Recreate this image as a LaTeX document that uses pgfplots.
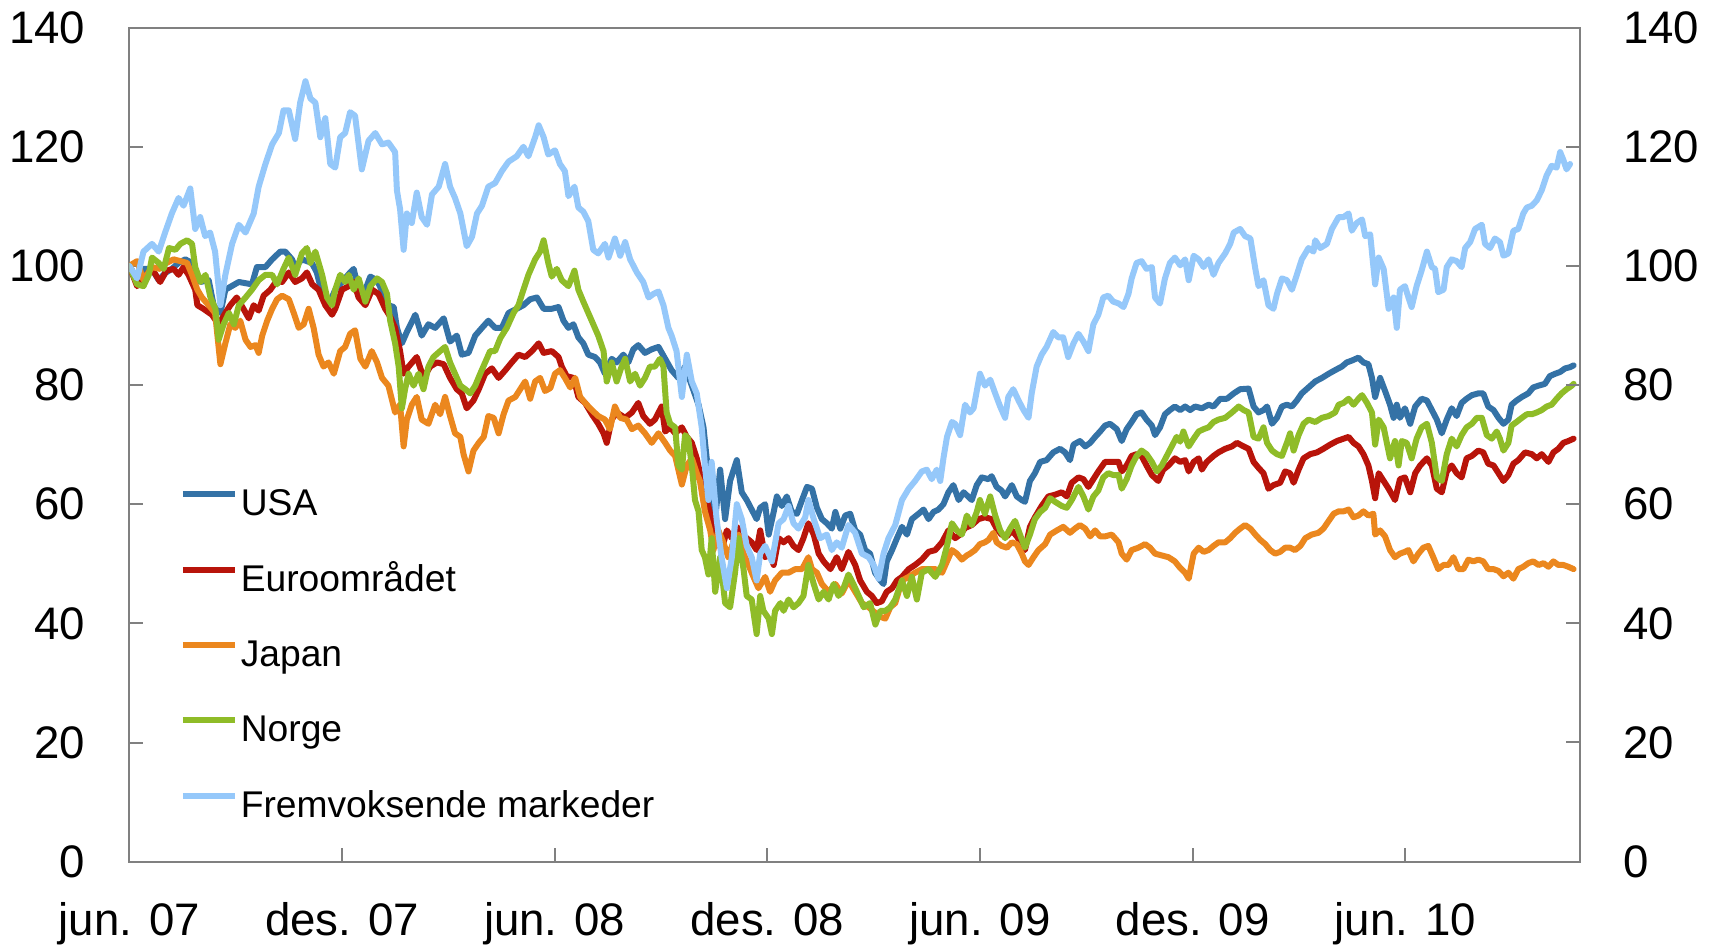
\documentclass[border=0pt]{standalone}
\usepackage{pgfplots}
\pgfplotsset{compat=1.18}
\usepackage{fontspec}
\setmainfont{Liberation Sans}
\definecolor{cUSA}{RGB}{52,114,166}
\definecolor{cEUR}{RGB}{184,20,10}
\definecolor{cJPN}{RGB}{235,135,30}
\definecolor{cNOR}{RGB}{143,188,40}
\definecolor{cEM}{RGB}{149,200,250}
\begin{document}
\begin{tikzpicture}
\path[use as bounding box] (-64.65bp,-42.15bp) rectangle (794.8bp,430.8bp);
\pgfplotsset{
  mystyle/.style={scale only axis, width=725.3bp, height=417bp,
    xmin=0, xmax=40.93, ymin=0, ymax=140,
    tick align=inside, major tick length=7bp,
    every tick/.style={gray, line width=1bp},
    ytick={0,20,...,140},
    tick label style={font=\fontsize{22.8bp}{27bp}\selectfont, inner sep=0pt},
    /pgf/number format/assume math mode=true,
    axis line style={gray, line width=1bp}},
  ser/.style={line width=3bp, line join=round, line cap=round}
}
\begin{axis}[mystyle, at={(0,0)}, anchor=south west,
  xtick={0,6,12,18,24,30,36},
  xticklabels={jun. 07,des. 07,jun. 08,des. 08,jun. 09,des. 09,jun. 10},
  xtick pos=bottom, ytick pos=left,
  xticklabel style={anchor=base, yshift=-36.7bp},
  yticklabel style={anchor=east, xshift=-21.9bp},
  legend style={draw=none, fill=none, inner sep=0pt, outer sep=0pt,
    at={(0.0349,0.4482)}, anchor=north west,
    row sep=19.69bp, column sep=1.45bp,
    font=\fontsize{18.6bp}{22bp}\selectfont,
    nodes={inner sep=0pt, text height=14bp, text depth=4bp}},
  legend cell align=left,
  legend image code/.code={\path (0bp,0bp); \draw[#1, line width=3bp, line cap=butt] (0bp,5.8bp) -- (26bp,5.8bp);}
]
% USA
\addplot[ser, cUSA] coordinates {
(0,100)(0.22,97.9)(0.40,99.5)(0.64,99.5)(0.83,97.6)(1.01,98.8)(1.20,99.5)(1.39,100.5)(1.58,101.1)(1.77,100.5)(1.86,98.5)(2.00,97.3)(2.24,97.6)(2.38,93.4)(2.57,92.1)(2.71,96.0)(3.09,97.3)(3.46,96.9)(3.60,99.8)(3.84,99.8)(4.03,101.1)(4.26,102.4)(4.40,102.4)(4.59,101.1)(4.68,99.8)(4.87,101.1)(5.15,100.5)(5.29,98.9)(5.44,95.3)(5.62,93.4)(5.81,96.0)(6.00,97.3)(6.23,98.9)(6.33,99.5)(6.47,96.0)(6.66,96.0)(6.80,98.2)(6.99,97.6)(7.17,95.3)(7.31,93.4)(7.46,93.1)(7.55,89.6)(7.69,87.0)(7.83,88.9)(8.07,91.8)(8.25,88.3)(8.44,90.2)(8.63,89.6)(8.87,91.2)(9.05,87.3)(9.24,88.3)(9.38,85.1)(9.57,85.4)(9.76,88.3)(9.95,89.6)(10.13,90.8)(10.32,89.6)(10.51,89.6)(10.70,92.1)(10.93,92.8)(11.12,93.4)(11.31,94.4)(11.50,94.7)(11.69,92.8)(11.92,92.8)(12.11,93.1)(12.25,90.8)(12.39,89.6)(12.53,90.2)(12.67,88.0)(12.81,87.0)(12.95,85.1)(13.14,84.7)(13.28,83.8)(13.42,81.9)(13.61,84.4)(13.75,83.8)(13.94,85.1)(14.08,83.8)(14.22,86.0)(14.36,86.7)(14.55,85.4)(14.74,86.0)(14.93,86.4)(15.12,84.4)(15.30,82.5)(15.49,81.2)(15.68,83.1)(15.87,79.9)(16.06,76.7)(16.20,72.9)(16.29,67.7)(16.43,62.6)(16.53,57.5)(16.67,65.8)(16.81,57.5)(16.95,63.9)(17.14,67.4)(17.28,62.0)(17.42,60.7)(17.56,59.1)(17.70,57.5)(17.80,59.4)(17.94,60.0)(18.04,54.9)(18.18,58.7)(18.27,61.3)(18.41,59.7)(18.55,61.3)(18.69,58.7)(18.84,58.4)(18.98,60.7)(19.12,62.9)(19.26,62.6)(19.40,59.4)(19.54,57.5)(19.68,56.8)(19.82,55.9)(19.92,58.7)(20.06,55.9)(20.20,58.1)(20.34,58.4)(20.48,55.6)(20.62,54.9)(20.76,52.3)(20.90,51.7)(21.04,48.5)(21.19,47.2)(21.28,46.6)(21.37,50.4)(21.52,52.3)(21.66,54.3)(21.80,56.2)(21.94,54.9)(22.08,57.5)(22.27,58.4)(22.41,59.1)(22.55,57.5)(22.69,58.7)(22.83,59.1)(22.97,60.0)(23.11,62.0)(23.25,63.2)(23.40,60.7)(23.54,62.0)(23.77,60.7)(23.91,63.2)(24.05,64.5)(24.24,64.2)(24.33,64.7)(24.47,62.9)(24.61,62.3)(24.71,61.3)(24.90,63.2)(25.04,61.3)(25.18,60.7)(25.27,60.4)(25.41,63.9)(25.55,65.2)(25.70,67.1)(25.88,67.4)(26.07,68.7)(26.26,69.3)(26.40,68.7)(26.54,67.4)(26.64,70.0)(26.82,70.6)(26.97,69.7)(27.11,70.3)(27.25,71.3)(27.39,72.2)(27.53,73.2)(27.67,73.5)(27.86,72.6)(28.00,70.6)(28.14,72.6)(28.28,73.8)(28.42,75.1)(28.56,75.4)(28.70,74.2)(28.85,73.2)(28.94,71.6)(29.08,72.9)(29.22,75.1)(29.36,75.8)(29.50,76.4)(29.65,75.8)(29.79,76.4)(29.93,75.8)(30.07,76.4)(30.26,76.1)(30.45,76.7)(30.59,76.4)(30.78,77.7)(30.97,77.7)(31.16,78.6)(31.34,79.3)(31.58,79.4)(31.72,76.4)(31.86,75.4)(32.00,75.8)(32.10,76.4)(32.24,73.5)(32.38,74.5)(32.52,76.4)(32.66,76.7)(32.80,76.4)(32.94,77.4)(33.08,78.6)(33.27,79.6)(33.46,80.6)(33.65,81.2)(33.84,81.9)(34.02,82.5)(34.21,83.1)(34.35,83.8)(34.49,84.1)(34.68,84.6)(34.82,83.8)(34.96,83.5)(35.06,81.2)(35.15,78.0)(35.29,81.2)(35.43,79.0)(35.57,76.7)(35.67,74.5)(35.76,76.7)(35.85,74.5)(35.99,76.1)(36.14,73.5)(36.28,76.4)(36.46,77.7)(36.61,77.4)(36.75,75.8)(36.89,74.2)(37.03,71.9)(37.17,74.2)(37.31,76.1)(37.45,74.8)(37.59,77.0)(37.73,77.7)(37.88,78.3)(38.06,78.6)(38.20,78.6)(38.34,76.4)(38.49,75.8)(38.63,74.5)(38.77,73.5)(38.91,74.2)(39.00,76.7)(39.14,77.4)(39.29,78.0)(39.47,78.6)(39.61,79.6)(39.76,79.9)(39.94,80.2)(40.08,81.5)(40.23,81.9)(40.37,82.2)(40.51,82.8)(40.65,83.0)(40.75,83.3)
};
\addlegendentry{USA}
% Euro
\addplot[ser, cEUR] coordinates {
(0,100)(0.22,96.6)(0.40,97.9)(0.64,99.5)(0.87,97.3)(1.05,99.2)(1.25,99.5)(1.39,98.5)(1.53,99.8)(1.67,98.5)(1.86,96.0)(1.92,93.4)(2.09,92.8)(2.33,91.8)(2.52,90.2)(2.71,92.1)(2.85,93.4)(3.03,94.7)(3.22,92.8)(3.37,91.2)(3.51,93.4)(3.65,92.5)(3.79,95.0)(3.98,96.0)(4.17,97.6)(4.31,97.3)(4.50,98.9)(4.68,97.3)(4.87,97.9)(5.01,98.9)(5.16,96.9)(5.34,96.0)(5.53,93.4)(5.72,91.8)(5.81,92.8)(6.00,96.0)(6.19,96.6)(6.33,97.3)(6.47,94.7)(6.66,93.4)(6.85,96.0)(7.03,95.3)(7.22,92.8)(7.36,91.5)(7.50,89.6)(7.64,85.7)(7.74,81.9)(7.88,83.1)(8.11,84.7)(8.30,81.2)(8.49,83.1)(8.68,83.8)(8.87,83.5)(9.05,81.2)(9.24,79.3)(9.38,78.6)(9.52,76.1)(9.71,77.4)(9.86,79.3)(10.04,81.9)(10.23,82.8)(10.42,81.2)(10.61,82.5)(10.79,83.8)(10.98,85.1)(11.17,84.7)(11.36,85.7)(11.55,87.0)(11.69,85.4)(11.92,85.7)(12.11,84.7)(12.20,83.1)(12.34,81.5)(12.53,81.2)(12.67,78.0)(12.86,77.0)(13.05,75.1)(13.23,73.5)(13.38,71.9)(13.47,70.3)(13.61,74.2)(13.75,75.4)(13.99,74.5)(14.18,75.4)(14.36,77.0)(14.50,74.8)(14.69,73.5)(14.83,74.2)(15.02,76.4)(15.12,72.2)(15.26,72.9)(15.40,71.9)(15.59,72.9)(15.73,71.3)(15.87,70.3)(16.01,67.7)(16.15,63.9)(16.29,60.7)(16.43,57.5)(16.57,54.3)(16.71,52.3)(16.86,55.6)(17.00,54.3)(17.14,56.2)(17.28,54.9)(17.42,54.3)(17.56,53.6)(17.70,52.3)(17.80,55.6)(17.94,51.1)(18.08,51.7)(18.18,49.8)(18.32,54.3)(18.46,53.6)(18.60,54.3)(18.74,53.0)(18.88,52.3)(19.02,54.3)(19.16,56.8)(19.31,54.9)(19.45,51.7)(19.59,50.4)(19.78,49.1)(19.96,51.1)(20.10,49.1)(20.29,52.0)(20.48,49.8)(20.62,47.2)(20.81,45.3)(20.95,44.6)(21.09,43.4)(21.23,43.7)(21.37,45.3)(21.52,45.9)(21.66,47.2)(21.80,47.8)(21.99,49.1)(22.17,49.8)(22.36,50.7)(22.55,52.0)(22.74,52.3)(22.93,53.6)(23.11,55.6)(23.30,54.3)(23.44,54.9)(23.58,56.0)(23.77,56.5)(23.96,57.5)(24.14,57.8)(24.33,57.5)(24.47,55.9)(24.61,54.9)(24.76,54.6)(24.90,55.6)(25.04,54.6)(25.18,53.3)(25.27,52.3)(25.41,56.2)(25.55,57.8)(25.74,59.7)(25.93,61.3)(26.12,61.6)(26.31,62.0)(26.45,61.3)(26.59,63.6)(26.78,64.5)(26.92,64.2)(27.06,62.9)(27.20,64.2)(27.34,65.5)(27.53,67.1)(27.72,67.1)(27.91,67.1)(28.00,65.5)(28.14,66.5)(28.28,68.1)(28.42,68.4)(28.56,68.1)(28.70,66.5)(28.85,64.9)(29.03,63.9)(29.17,65.8)(29.32,66.5)(29.50,67.7)(29.65,67.1)(29.79,67.4)(29.89,65.5)(30.03,67.1)(30.17,67.7)(30.26,65.8)(30.40,67.1)(30.59,68.1)(30.73,68.7)(30.92,69.3)(31.11,69.7)(31.25,70.3)(31.44,69.7)(31.58,69.3)(31.72,67.1)(31.86,66.1)(32.00,65.2)(32.14,62.6)(32.28,63.2)(32.47,63.6)(32.61,65.5)(32.75,65.2)(32.85,63.6)(32.99,65.8)(33.13,67.7)(33.32,68.4)(33.51,68.7)(33.69,69.3)(33.88,70.0)(34.07,70.6)(34.26,71.0)(34.40,71.3)(34.54,70.3)(34.68,69.7)(34.82,68.4)(34.96,66.5)(35.06,63.9)(35.15,61.0)(35.25,65.2)(35.39,63.9)(35.53,62.6)(35.71,60.7)(35.85,64.2)(35.99,64.5)(36.14,62.0)(36.28,65.2)(36.42,66.5)(36.61,67.7)(36.75,66.5)(36.89,62.6)(37.03,62.0)(37.17,65.5)(37.31,66.5)(37.45,65.2)(37.59,64.5)(37.73,67.7)(37.88,68.1)(38.06,69.0)(38.20,68.7)(38.34,66.8)(38.49,66.5)(38.63,65.2)(38.77,63.9)(38.91,64.9)(39.05,66.8)(39.19,67.4)(39.38,68.7)(39.57,68.4)(39.71,67.7)(39.85,68.4)(40.04,67.1)(40.18,68.7)(40.32,69.3)(40.46,70.3)(40.60,70.6)(40.75,71.0)
};
\addlegendentry{Euroområdet}
% Japan
\addplot[ser, cJPN] coordinates {
(0,100)(0.22,100.8)(0.40,97.6)(0.64,99.8)(0.87,99.5)(1.05,100.5)(1.25,101.1)(1.44,100.8)(1.63,100.5)(1.77,98.5)(1.92,96.0)(2.05,94.7)(2.24,93.4)(2.42,92.1)(2.57,83.5)(2.71,87.0)(2.85,90.2)(2.99,89.6)(3.13,90.8)(3.28,87.6)(3.42,86.4)(3.56,86.7)(3.65,85.4)(3.75,88.3)(3.89,90.8)(4.03,92.8)(4.17,94.4)(4.31,95.0)(4.50,94.4)(4.64,92.1)(4.78,89.6)(4.92,90.2)(5.06,92.8)(5.20,89.6)(5.34,85.1)(5.48,83.1)(5.62,83.8)(5.77,81.9)(5.95,85.7)(6.09,86.4)(6.23,88.6)(6.37,89.2)(6.52,84.4)(6.66,83.1)(6.84,85.7)(6.99,83.8)(7.13,81.2)(7.31,79.9)(7.50,75.4)(7.64,76.7)(7.74,69.7)(7.83,74.2)(7.97,76.7)(8.11,78.0)(8.25,74.2)(8.44,73.5)(8.63,76.7)(8.77,75.1)(8.91,78.0)(9.05,74.8)(9.19,71.9)(9.34,71.3)(9.43,68.4)(9.57,65.5)(9.71,69.0)(9.86,70.3)(10.00,71.3)(10.13,74.8)(10.28,74.5)(10.42,71.9)(10.56,75.1)(10.70,77.4)(10.89,78.0)(11.03,79.3)(11.17,80.6)(11.31,77.7)(11.45,80.6)(11.59,81.2)(11.73,79.0)(11.88,79.5)(12.01,81.9)(12.15,82.5)(12.29,81.2)(12.44,79.6)(12.58,81.2)(12.72,78.0)(12.86,77.0)(13.05,75.8)(13.23,74.8)(13.42,74.2)(13.56,72.6)(13.70,76.4)(13.85,74.5)(14.03,74.2)(14.18,72.6)(14.36,73.2)(14.55,71.9)(14.74,70.3)(14.93,71.9)(15.12,70.3)(15.26,69.0)(15.40,68.1)(15.59,63.3)(15.73,66.5)(15.87,67.7)(16.01,65.2)(16.10,63.9)(16.24,58.8)(16.39,55.6)(16.48,52.3)(16.62,55.6)(16.76,53.6)(16.90,51.1)(17.04,53.6)(17.19,54.9)(17.33,51.7)(17.47,49.8)(17.61,47.8)(17.75,45.9)(17.94,47.8)(18.08,45.3)(18.22,47.2)(18.41,48.5)(18.60,48.5)(18.79,49.1)(18.98,49.1)(19.16,51.1)(19.26,49.1)(19.40,48.5)(19.54,46.6)(19.73,45.3)(19.92,46.6)(20.10,45.0)(20.29,47.2)(20.48,45.3)(20.67,43.4)(20.86,42.7)(21.04,41.8)(21.19,41.1)(21.33,40.8)(21.47,42.7)(21.61,43.4)(21.80,47.2)(21.99,47.8)(22.17,48.5)(22.36,49.1)(22.55,49.1)(22.74,49.1)(22.93,48.5)(23.07,50.4)(23.21,52.3)(23.35,51.7)(23.49,50.7)(23.63,51.4)(23.72,51.7)(23.86,52.3)(24.00,53.3)(24.14,53.6)(24.24,54.0)(24.38,55.2)(24.47,53.6)(24.61,53.0)(24.76,52.7)(24.90,53.6)(25.04,53.3)(25.18,51.7)(25.27,50.4)(25.37,49.8)(25.51,51.1)(25.65,52.3)(25.84,53.3)(25.98,54.9)(26.17,55.6)(26.35,56.2)(26.54,55.2)(26.68,55.9)(26.82,56.5)(26.97,55.9)(27.11,54.6)(27.25,55.6)(27.39,54.6)(27.53,54.6)(27.72,54.9)(27.91,53.6)(28.00,51.7)(28.14,50.7)(28.28,52.3)(28.47,52.7)(28.66,53.3)(28.80,52.7)(28.94,51.7)(29.13,51.4)(29.32,51.1)(29.50,50.4)(29.65,49.3)(29.79,48.5)(29.89,47.5)(30.03,51.7)(30.17,52.7)(30.31,52.0)(30.45,52.3)(30.59,53.0)(30.73,53.6)(30.92,53.6)(31.06,54.3)(31.20,55.2)(31.34,55.9)(31.48,56.5)(31.63,55.9)(31.77,54.9)(31.91,54.0)(32.05,53.3)(32.19,52.3)(32.33,51.7)(32.47,52.0)(32.61,52.7)(32.75,52.7)(32.89,52.3)(33.04,53.0)(33.18,54.3)(33.36,54.9)(33.55,55.2)(33.69,55.9)(33.84,57.2)(33.98,58.4)(34.12,58.8)(34.26,58.8)(34.40,59.1)(34.54,57.8)(34.68,58.1)(34.82,58.8)(34.96,58.1)(35.10,58.4)(35.15,54.9)(35.29,55.6)(35.43,54.6)(35.57,52.3)(35.71,51.1)(35.85,51.7)(35.99,52.0)(36.09,52.3)(36.23,50.4)(36.37,51.7)(36.51,52.7)(36.65,53.0)(36.79,51.1)(36.93,49.1)(37.08,49.8)(37.22,49.8)(37.36,51.1)(37.50,49.1)(37.64,49.1)(37.78,50.7)(37.92,50.4)(38.06,50.7)(38.20,50.4)(38.34,49.1)(38.49,49.1)(38.63,48.8)(38.77,47.9)(38.91,48.5)(39.05,47.5)(39.19,49.1)(39.33,49.5)(39.47,50.1)(39.61,50.4)(39.76,49.8)(39.90,50.1)(40.04,49.5)(40.18,50.4)(40.32,49.8)(40.46,49.8)(40.60,49.5)(40.75,49.1)
};
\addlegendentry{Japan}
% Norge
\addplot[ser, cNOR] coordinates {
(0,100)(0.22,96.9)(0.40,96.6)(0.55,98.5)(0.64,101.4)(0.83,100.5)(0.97,99.5)(1.12,103.0)(1.30,102.7)(1.44,103.7)(1.63,104.3)(1.77,103.7)(1.86,99.8)(2.01,97.3)(2.15,98.5)(2.29,94.7)(2.43,92.8)(2.52,87.6)(2.66,90.2)(2.81,92.1)(2.95,90.2)(3.09,93.4)(3.28,94.7)(3.46,96.0)(3.65,97.6)(3.84,98.5)(4.03,98.5)(4.17,96.9)(4.35,99.5)(4.50,101.4)(4.68,98.5)(4.87,102.1)(5.01,103.0)(5.11,100.5)(5.25,102.4)(5.44,98.5)(5.58,94.7)(5.72,93.4)(5.81,96.0)(5.95,98.5)(6.09,97.3)(6.19,98.5)(6.33,96.0)(6.47,97.9)(6.66,94.0)(6.80,96.6)(6.99,97.9)(7.13,97.3)(7.27,95.3)(7.36,90.8)(7.50,87.0)(7.60,83.1)(7.69,76.1)(7.78,79.3)(7.88,81.9)(8.02,79.9)(8.16,81.9)(8.30,79.3)(8.44,83.1)(8.58,84.7)(8.77,85.7)(8.91,86.4)(9.05,83.8)(9.19,81.9)(9.34,79.9)(9.48,79.3)(9.62,78.6)(9.76,79.9)(9.90,81.9)(10.04,83.8)(10.18,85.7)(10.32,85.7)(10.47,87.9)(10.65,89.6)(10.84,92.1)(10.98,93.4)(11.12,96.0)(11.26,98.5)(11.45,101.1)(11.59,102.4)(11.69,104.3)(11.82,100.5)(11.92,98.2)(12.06,99.5)(12.20,97.6)(12.39,96.6)(12.56,99.2)(12.67,96.0)(12.81,94.0)(12.95,92.1)(13.09,90.2)(13.23,88.3)(13.38,85.7)(13.47,80.6)(13.61,83.8)(13.75,80.6)(13.89,83.1)(13.99,84.4)(14.13,80.6)(14.27,81.9)(14.41,79.9)(14.55,81.2)(14.69,83.1)(14.83,83.1)(14.97,84.4)(15.07,83.1)(15.16,75.4)(15.26,73.5)(15.40,72.9)(15.49,66.5)(15.59,65.8)(15.68,71.6)(15.77,71.0)(15.87,66.5)(15.96,60.7)(16.06,58.8)(16.15,52.3)(16.24,51.1)(16.34,48.2)(16.43,54.3)(16.53,45.3)(16.67,51.1)(16.81,43.4)(16.95,42.7)(17.09,48.5)(17.19,54.3)(17.33,49.1)(17.42,44.6)(17.56,44.0)(17.70,38.2)(17.80,44.6)(17.89,42.1)(18.04,40.8)(18.13,38.2)(18.22,42.1)(18.37,43.4)(18.46,42.1)(18.60,44.0)(18.74,42.7)(18.88,43.4)(19.02,44.6)(19.16,49.8)(19.31,46.6)(19.45,44.0)(19.59,45.3)(19.73,44.0)(19.87,46.6)(20.01,44.6)(20.15,45.9)(20.29,48.2)(20.43,46.6)(20.58,44.6)(20.72,42.7)(20.90,43.4)(21.05,39.8)(21.19,42.1)(21.33,42.1)(21.47,42.7)(21.61,44.0)(21.80,47.2)(21.94,44.6)(22.08,47.8)(22.22,44.0)(22.36,48.5)(22.55,49.1)(22.74,47.8)(22.93,49.8)(23.07,53.0)(23.21,56.8)(23.35,55.6)(23.49,54.9)(23.63,58.1)(23.77,56.5)(23.91,58.7)(24.00,60.7)(24.14,58.4)(24.29,61.3)(24.43,58.1)(24.57,55.6)(24.71,54.3)(24.85,55.9)(24.99,57.2)(25.13,54.9)(25.27,52.7)(25.41,54.9)(25.55,57.5)(25.70,58.7)(25.84,59.4)(25.98,61.0)(26.12,60.4)(26.31,59.7)(26.45,59.4)(26.59,60.7)(26.78,62.9)(26.92,61.3)(27.06,59.1)(27.20,61.3)(27.34,62.3)(27.48,64.5)(27.62,65.2)(27.76,64.9)(27.91,64.9)(28.00,62.6)(28.14,64.2)(28.28,66.5)(28.42,68.1)(28.56,69.0)(28.70,68.4)(28.85,67.1)(28.99,65.5)(29.13,66.5)(29.27,68.1)(29.41,69.7)(29.55,71.3)(29.65,70.5)(29.74,72.2)(29.89,69.7)(30.03,71.0)(30.17,72.2)(30.31,72.6)(30.45,72.9)(30.59,73.8)(30.73,74.2)(30.92,74.5)(31.11,75.4)(31.30,76.4)(31.44,75.8)(31.58,75.4)(31.72,71.3)(31.86,71.0)(32.00,72.9)(32.10,70.3)(32.24,69.0)(32.38,68.4)(32.52,68.1)(32.66,70.3)(32.75,71.9)(32.85,69.0)(32.99,71.6)(33.13,73.5)(33.27,74.2)(33.46,73.8)(33.65,74.5)(33.84,74.8)(34.02,75.4)(34.12,76.7)(34.26,77.0)(34.40,77.7)(34.54,76.7)(34.68,77.7)(34.78,78.3)(34.92,77.0)(35.06,75.4)(35.15,70.0)(35.25,74.2)(35.39,72.9)(35.57,67.7)(35.71,70.6)(35.81,66.5)(35.90,70.6)(36.04,70.3)(36.18,67.7)(36.32,71.0)(36.46,72.9)(36.61,73.5)(36.75,70.3)(36.89,64.5)(37.03,63.9)(37.17,68.4)(37.31,71.0)(37.45,69.7)(37.59,71.6)(37.73,72.9)(37.88,73.5)(38.02,74.5)(38.16,74.5)(38.30,71.6)(38.44,71.0)(38.58,72.2)(38.67,71.0)(38.77,69.0)(38.91,70.3)(39.00,73.2)(39.14,73.8)(39.29,74.5)(39.43,75.1)(39.57,75.1)(39.71,75.4)(39.85,75.8)(39.99,76.4)(40.13,76.7)(40.27,77.7)(40.41,78.6)(40.55,79.3)(40.70,79.9)(40.75,80.2)
};
\addlegendentry{Norge}
% Fremvoksende markeder
\addplot[ser, cEM] coordinates {
(0,100)(0.22,97.9)(0.40,102.4)(0.64,103.7)(0.83,102.4)(1.01,105.6)(1.20,108.8)(1.39,111.4)(1.53,110.1)(1.72,113.0)(1.86,106.2)(2.00,108.2)(2.14,105.0)(2.28,105.6)(2.42,102.4)(2.57,93.4)(2.71,98.5)(2.90,103.7)(3.09,106.9)(3.28,105.6)(3.51,108.8)(3.65,113.3)(3.84,117.1)(4.03,120.4)(4.22,122.3)(4.35,126.1)(4.50,126.1)(4.68,121.3)(4.82,127.4)(4.97,131.0)(5.11,128.1)(5.25,127.4)(5.39,121.6)(5.53,124.8)(5.67,117.1)(5.81,116.5)(5.95,121.6)(6.09,122.3)(6.23,125.8)(6.37,125.2)(6.56,116.2)(6.75,121.0)(6.94,122.3)(7.13,120.4)(7.31,120.7)(7.50,119.1)(7.55,112.7)(7.64,109.5)(7.74,102.7)(7.83,108.8)(7.97,107.2)(8.11,112.3)(8.25,108.2)(8.40,106.9)(8.54,112.0)(8.73,113.3)(8.91,117.1)(9.05,113.3)(9.19,111.4)(9.34,108.8)(9.52,103.3)(9.67,104.9)(9.81,108.8)(9.95,110.1)(10.13,113.3)(10.32,113.9)(10.51,115.9)(10.70,117.5)(10.93,118.4)(11.12,120.0)(11.26,118.4)(11.45,121.6)(11.55,123.6)(11.69,121.6)(11.82,118.7)(12.01,119.4)(12.15,117.1)(12.29,115.9)(12.39,111.7)(12.56,113.3)(12.67,109.8)(12.81,109.1)(12.95,107.5)(13.09,102.7)(13.23,102.1)(13.42,103.7)(13.52,101.4)(13.70,104.6)(13.85,101.7)(13.99,104.0)(14.13,101.1)(14.32,98.9)(14.50,97.3)(14.65,94.7)(14.79,95.3)(14.93,95.7)(15.07,93.4)(15.21,89.6)(15.30,88.3)(15.44,85.7)(15.59,78.0)(15.73,85.1)(15.87,80.6)(16.01,78.6)(16.15,72.9)(16.24,66.5)(16.34,60.7)(16.43,67.1)(16.57,57.5)(16.71,51.1)(16.86,45.9)(17.00,51.1)(17.14,60.0)(17.28,57.5)(17.42,53.0)(17.56,51.1)(17.70,47.2)(17.80,51.7)(17.94,53.0)(18.13,50.4)(18.32,56.8)(18.46,57.5)(18.60,59.7)(18.74,56.8)(18.88,55.9)(19.07,57.8)(19.16,60.7)(19.31,57.5)(19.49,54.3)(19.68,54.9)(19.82,52.3)(19.96,53.6)(20.10,52.7)(20.29,56.5)(20.48,55.2)(20.67,51.7)(20.86,51.1)(21.00,49.8)(21.14,47.5)(21.28,51.7)(21.42,54.3)(21.61,56.5)(21.80,60.7)(21.99,62.6)(22.17,63.9)(22.36,65.5)(22.50,65.8)(22.64,64.2)(22.78,65.8)(22.88,63.9)(22.97,67.7)(23.07,71.3)(23.21,73.8)(23.30,73.5)(23.44,71.6)(23.58,76.7)(23.72,75.4)(23.82,76.1)(24.00,81.9)(24.14,79.9)(24.29,80.9)(24.43,78.6)(24.57,76.4)(24.71,74.5)(24.80,78.0)(24.94,79.3)(25.09,77.4)(25.23,75.8)(25.37,74.5)(25.46,78.6)(25.60,83.1)(25.74,85.1)(25.88,86.4)(26.07,88.9)(26.21,88.0)(26.35,88.0)(26.49,84.7)(26.64,87.0)(26.78,88.6)(26.92,87.3)(27.06,85.7)(27.20,90.2)(27.34,91.8)(27.48,94.7)(27.62,95.0)(27.76,94.0)(27.91,93.7)(28.05,93.1)(28.19,95.3)(28.28,97.9)(28.42,100.5)(28.56,100.8)(28.70,99.5)(28.85,99.8)(28.94,94.7)(29.08,93.7)(29.22,97.9)(29.36,100.5)(29.50,101.4)(29.65,100.1)(29.79,101.1)(29.89,97.6)(30.03,101.7)(30.17,101.1)(30.31,99.8)(30.45,101.1)(30.59,98.5)(30.73,100.5)(30.92,102.1)(31.06,103.7)(31.16,105.6)(31.34,106.2)(31.48,105.0)(31.63,104.6)(31.77,99.5)(31.86,96.6)(32.00,97.6)(32.14,93.4)(32.28,92.8)(32.38,95.3)(32.52,97.9)(32.66,97.6)(32.80,96.0)(32.94,98.5)(33.08,101.1)(33.27,103.0)(33.41,102.4)(33.46,104.3)(33.60,103.0)(33.79,103.7)(33.93,106.2)(34.12,108.2)(34.26,108.2)(34.40,108.8)(34.49,105.9)(34.63,107.2)(34.78,107.8)(34.87,105.0)(35.01,105.3)(35.15,96.9)(35.25,101.4)(35.39,99.5)(35.53,92.8)(35.67,94.7)(35.76,89.6)(35.85,96.0)(35.99,96.6)(36.09,94.7)(36.18,93.1)(36.32,96.6)(36.46,99.2)(36.61,102.4)(36.75,99.8)(36.84,99.5)(36.93,95.6)(37.08,96.0)(37.17,99.8)(37.31,101.1)(37.45,100.8)(37.59,99.8)(37.69,103.0)(37.83,104.0)(37.97,106.2)(38.16,106.9)(38.25,103.7)(38.39,103.0)(38.53,104.6)(38.67,104.0)(38.77,101.7)(38.91,102.1)(39.05,105.9)(39.19,106.2)(39.33,108.8)(39.43,109.8)(39.57,110.1)(39.71,111.0)(39.85,112.7)(39.99,115.2)(40.13,116.8)(40.27,116.5)(40.37,119.1)(40.46,117.8)(40.55,116.2)(40.65,117.1)
};
\addlegendentry{Fremvoksende markeder}
\end{axis}
\begin{axis}[mystyle, at={(0,0)}, anchor=south west,
  axis x line=none, axis y line*=right,
  yticklabel style={anchor=west, xshift=21.3bp}]
\addplot[draw=none] coordinates {(0,0)};
\end{axis}
\end{tikzpicture}
\end{document}
